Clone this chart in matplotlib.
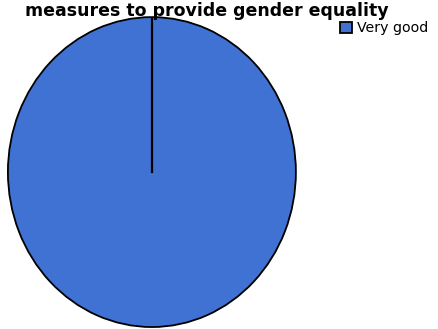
import matplotlib.pyplot as plt
import numpy as np

# data
labels = ['Very good']
values = [100]
colors = ['#3f72d2']
title = 'measures to provide gender equality'

fig = plt.figure(figsize=(4.39, 3.29), dpi=100)
fig.patch.set_facecolor('white')

# pie sits on the left, a bit taller than wide (photo of a chart)
ax = fig.add_axes([0.018, 0.006, 0.656, 0.942])
start = 90
wedges, _ = ax.pie(values, colors=colors, startangle=start, counterclock=False,
                   radius=1, wedgeprops=dict(edgecolor='black', linewidth=1.3))
ax.set_aspect('auto')
ax.set_xlim(-1, 1)
ax.set_ylim(-1, 1)
ax.axis('off')

# the slice border from the centre to the start angle
a = np.deg2rad(start)
ax.plot([0, np.cos(a)], [0, np.sin(a)], color='black', linewidth=1.6)

fig.text(0.058, 0.952, title, fontsize=12.5, fontweight='bold',
         ha='left', va='baseline')

leg = fig.legend(wedges, labels, loc='upper left', bbox_to_anchor=(0.775, 0.935),
                 frameon=False, fontsize=10.2, handlelength=0.85, handleheight=0.85,
                 handletextpad=0.3, borderpad=0, borderaxespad=0)

fig.savefig('out.png', dpi=100, facecolor='white')
